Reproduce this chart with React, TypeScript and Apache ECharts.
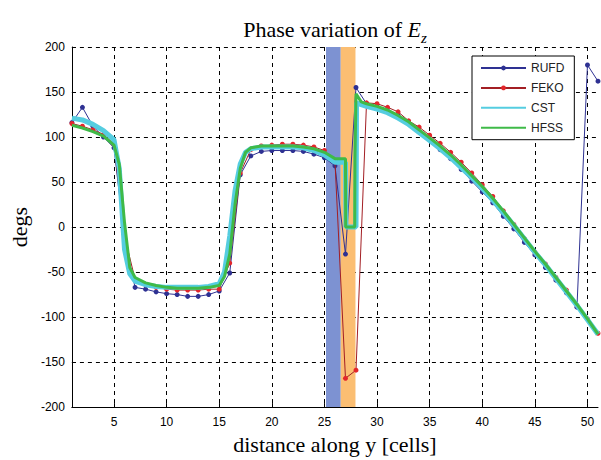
import React, { useEffect, useRef } from 'react';
import * as echarts from 'echarts';

const xTickValues = [5, 10, 15, 20, 25, 30, 35, 40, 45, 50];

const rufdX = [1,2,3,4,5,6,7,8,9,10,11,12,13,14,15,16,17,18,19,20,21,22,23,24,25,26,27,28,29,30,31,32,33,34,35,36,37,38,39,40,41,42,43,44,45,46,47,48,49,50,51];
const rufdY = [116,133,112,100,88,-14,-67,-69,-72,-74,-75,-77,-77,-75,-71,-51,58,79,84,85,85,85,84,81,77,68,-30,155,137,134,129,124,115,106,97,86,76,64,51,39,27,12,-2,-17,-31,-45,-59,-73,-89,180,162];

const fekoX = rufdX;
const fekoY = [115,112,108,103,92,-10,-58,-64,-67,-69,-70,-70,-70,-69,-69,-40,60,86,90,91,92,92,91,89,85,73,-168,-159,138,137,133,128,118,111,102,93,83,72,60,47,34,18,3,-13,-28,-41,-56,-70,-87,-102,-118];

const cstX = [1,2,3,4,5,5.5,6,6.5,7,8,9,10,11,12,13,14,15,15.5,16,16.5,17,17.5,18,19,20,21,22,23,24,25,26,27,27.05,28,28.05,28.5,29,30,31,32,33,34,35,36,37,38,39,40,41,42,43,44,45,46,47,48,49,50,51];
const cstY = [121,119,114,107,97,65,-25,-52,-60,-64,-66,-67,-67,-67,-67,-66,-63,-50,-10,40,70,83,87,89,89,89,89,88,85,80,72,72,0,0,138,136,134,131,127,121,114,105,96,87,77,66,55,43,30,16,2,-13,-28,-42,-57,-72,-87,-103,-119];

const hfssX = [1,2,3,4,5,5.5,6,6.5,7,8,9,10,11,12,13,14,15,15.5,16,16.5,17,17.5,18,19,20,21,22,23,24,25,26,27,27.02,27.88,27.9,28,28.5,29,30,31,32,33,34,35,36,37,38,39,40,41,42,43,44,45,46,47,48,49,50,51];
const hfssY = [113,110,106,101,91,70,5,-45,-56,-62,-65,-67,-68,-68,-68,-67,-65,-55,-30,25,65,83,88,90,90,90,90,89,87,83,76,76,0,0,76,148,139,137,134,130,124,117,108,99,90,80,69,57,45,32,18,3,-12,-27,-41,-56,-71,-86,-102,-119];

const bandBlue = [25.15, 26.55];
const bandOrange = [26.55, 27.95];

const zip = (xs: number[], ys: number[]) => xs.map((x, i) => [x, ys[i]]);

export default function App() {
  const ref = useRef<HTMLDivElement>(null);
  useEffect(() => {
    if (!ref.current) return;
    const chart = echarts.init(ref.current, null, { renderer: 'svg' });
    const sans = 'Liberation Sans, Arial, sans-serif';
    const serif = 'Liberation Serif, Times New Roman, serif';
    chart.setOption({
      animation: false,
      backgroundColor: '#ffffff',
      title: {
        text: 'Phase variation of {e|E}{z|z}',
        left: 330,
        textAlign: 'center',
        top: 11,
        textStyle: {
          fontFamily: serif,
          fontSize: 22,
          fontWeight: 'normal',
          color: '#000',
          lineHeight: 26,
          rich: {
            e: { fontFamily: serif, fontSize: 22, fontStyle: 'italic', color: '#000', lineHeight: 26 },
            z: { fontFamily: serif, fontSize: 15, fontStyle: 'italic', color: '#000', lineHeight: 26, verticalAlign: 'bottom', padding: [0, 0, -3, 0] },
          },
        },
      },
      legend: {
        orient: 'vertical',
        left: 472,
        top: 56,
        data: [
          { name: 'RUFD' },
          { name: 'FEKO' },
          { name: 'CST', itemStyle: { opacity: 0 } },
          { name: 'HFSS', itemStyle: { opacity: 0 } },
        ],
        itemWidth: 45,
        itemHeight: 6,
        itemGap: 7.9,
        padding: [6, 10, 6, 8],
        backgroundColor: '#fff',
        borderColor: '#000',
        borderWidth: 1,
        borderRadius: 0,
        textStyle: { fontFamily: sans, fontSize: 12, color: '#222' },
      },
      grid: { left: 62, right: 3, top: 47, bottom: 48 },
      xAxis: {
        type: 'value',
        min: 1,
        max: 51,
        name: 'distance along y [cells]',
        nameLocation: 'middle',
        nameGap: 17,
        nameTextStyle: { fontFamily: serif, fontSize: 22, color: '#000' },
        axisLine: { onZero: false, lineStyle: { color: '#000', width: 1 } },
        axisTick: { show: true, inside: true, length: 4, customValues: xTickValues, lineStyle: { color: '#000' } },
        axisLabel: { customValues: xTickValues, fontFamily: sans, fontSize: 12, color: '#000', margin: 9 },
        splitLine: { show: true, lineStyle: { color: '#000', type: [4, 4], width: 1 } },
      },
      yAxis: {
        type: 'value',
        min: -200,
        max: 200,
        interval: 50,
        name: 'degs',
        nameLocation: 'middle',
        nameGap: 32,
        nameTextStyle: { fontFamily: serif, fontSize: 22, color: '#000' },
        axisLine: { show: true, onZero: false, lineStyle: { color: '#000', width: 1 } },
        axisTick: { show: true, inside: true, length: 4, lineStyle: { color: '#000' } },
        axisLabel: { fontFamily: sans, fontSize: 12, color: '#000', margin: 7 },
        splitLine: { show: true, lineStyle: { color: '#000', type: [4, 4], width: 1 } },
      },
      series: [
        {
          name: 'bands',
          type: 'line',
          data: [],
          silent: true,
          z: 1,
          markArea: {
            silent: true,
            data: [
              [{ xAxis: bandBlue[0], itemStyle: { color: '#7d92d2', opacity: 1 } }, { xAxis: bandBlue[1] }],
              [{ xAxis: bandOrange[0], itemStyle: { color: '#fbbe72', opacity: 1 } }, { xAxis: bandOrange[1] }],
            ],
          },
        },
        {
          name: 'RUFD',
          type: 'line',
          z: 3,
          data: zip(rufdX, rufdY),
          symbol: 'circle',
          symbolSize: 5,
          itemStyle: { color: '#2e3192' },
          lineStyle: { color: '#2e3192', width: 1 },
        },
        {
          name: 'FEKO',
          type: 'line',
          z: 4,
          data: zip(fekoX, fekoY),
          symbol: 'circle',
          symbolSize: 5,
          itemStyle: { color: '#e3262b' },
          lineStyle: { color: '#a31f24', width: 1 },
        },
        {
          name: 'CST',
          type: 'line',
          z: 5,
          data: zip(cstX, cstY),
          symbol: 'none',
          itemStyle: { color: '#55cde0' },
          lineStyle: { color: '#55cde0', width: 5 },
        },
        {
          name: 'HFSS',
          type: 'line',
          z: 6,
          data: zip(hfssX, hfssY),
          symbol: 'none',
          itemStyle: { color: '#3fba48' },
          lineStyle: { color: '#3fba48', width: 3 },
        },
      ],
    });
    return () => chart.dispose();
  }, []);
  return <div ref={ref} style={{ position: 'fixed', left: 0, top: 0, width: 601, height: 460 }} />;
}
